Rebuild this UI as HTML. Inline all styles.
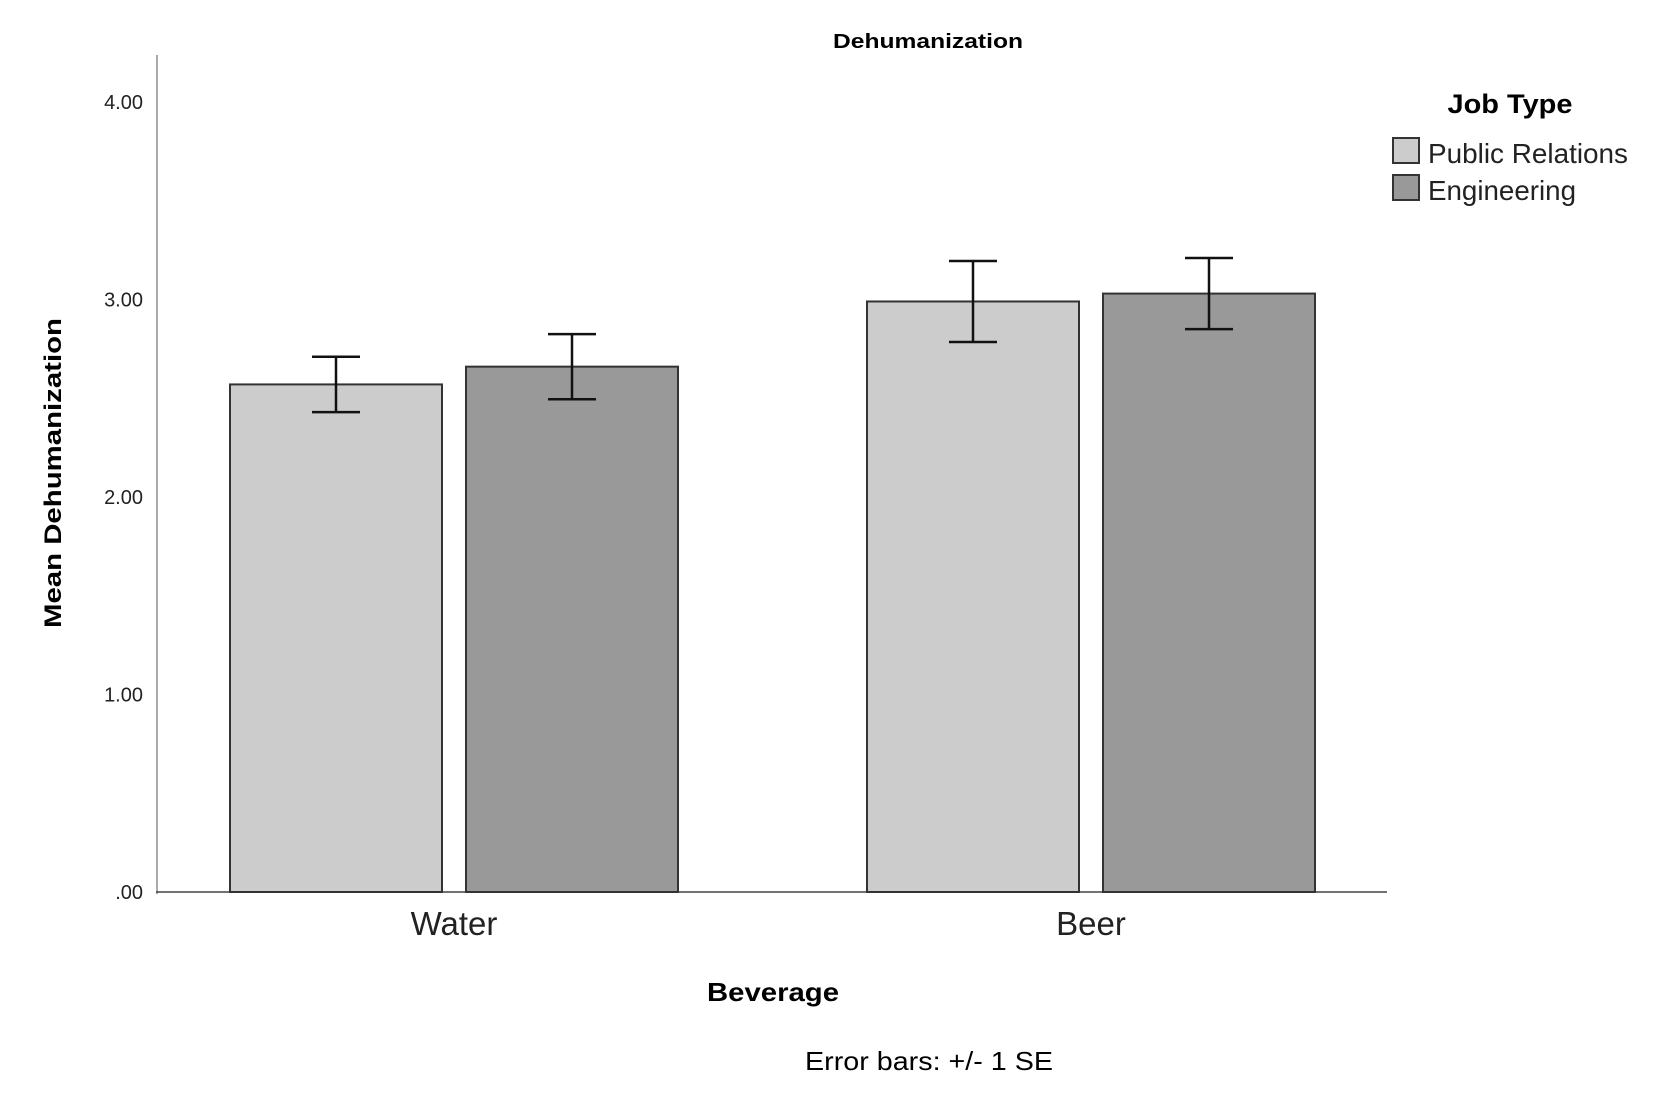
<!DOCTYPE html>
<html><head><meta charset="utf-8"><style>
html,body{margin:0;padding:0;background:#fff;}
svg{display:block;font-family:"Liberation Sans",Arial,sans-serif;}
</style></head><body>
<svg id="chart" width="1656" height="1104" viewBox="0 0 1656 1104">
<text x="928" y="48" text-anchor="middle" font-size="20" font-weight="bold" textLength="190" lengthAdjust="spacingAndGlyphs">Dehumanization</text>
<g id="yticks"></g>
<line x1="157" y1="55" x2="157" y2="894" stroke="#aaa" stroke-width="2"/>
<line x1="156" y1="892" x2="1387" y2="892" stroke="#444" stroke-width="1.5"/>
<g id="bars"></g>
<g id="xlabels"></g>
<text transform="translate(61,473) rotate(-90)" text-anchor="middle" font-size="24" font-weight="bold" textLength="310" lengthAdjust="spacingAndGlyphs">Mean Dehumanization</text>
<text x="773" y="1001" text-anchor="middle" font-size="26" font-weight="bold" textLength="132" lengthAdjust="spacingAndGlyphs">Beverage</text>
<text x="929" y="1070" text-anchor="middle" font-size="26" textLength="248" lengthAdjust="spacingAndGlyphs">Error bars: +/- 1 SE</text>
<g>
<text x="1510" y="113" text-anchor="middle" font-size="27" font-weight="bold" textLength="125" lengthAdjust="spacingAndGlyphs">Job Type</text>
<rect x="1393" y="138" width="26" height="25" fill="#cccccc" stroke="#333" stroke-width="2"/>
<text x="1428" y="163" font-size="28" fill="#222" textLength="200" lengthAdjust="spacingAndGlyphs">Public Relations</text>
<rect x="1393" y="175" width="26" height="25" fill="#999999" stroke="#333" stroke-width="2"/>
<text x="1428" y="200" font-size="28" fill="#222" textLength="148" lengthAdjust="spacingAndGlyphs">Engineering</text>
</g>
</svg>
<script>
const categories = ["Water", "Beer"];
const seriesNames = ["Public Relations", "Engineering"];
const publicRelations = [2.57, 2.99];
const engineering = [2.66, 3.03];
const sePublicRelations = [0.14, 0.205];
const seEngineering = [0.165, 0.18];
const yTicks = [0, 1, 2, 3, 4];
const yTickLabels = [".00", "1.00", "2.00", "3.00", "4.00"];

const NS = "http://www.w3.org/2000/svg";
const y0 = 892, unit = 197.5;
function yScale(v){ return y0 - v*unit; }
const groupStart = [230, 867];
const barW = 212, barGap = 236;
const colors = ["#cccccc", "#999999"];
const series = [publicRelations, engineering];
const ses = [sePublicRelations, seEngineering];
function mk(tag, attrs){ const e=document.createElementNS(NS,tag); for(const k in attrs) e.setAttribute(k,attrs[k]); return e; }

const yt = document.getElementById("yticks");
yTicks.forEach((t,i)=>{
  const tx = mk("text",{x:143,y:yScale(t)+7,"text-anchor":"end","font-size":"20",fill:"#222"});
  tx.textContent = yTickLabels[i];
  
  
  yt.appendChild(tx);
});

const bg = document.getElementById("bars");
const xl = document.getElementById("xlabels");
categories.forEach((c,ci)=>{
  series.forEach((s,si)=>{
    const x = groupStart[ci] + si*barGap;
    const top = yScale(s[ci]);
    const r = mk("rect",{x:x,y:top,width:barW,height:y0-top,fill:colors[si],stroke:"#333","stroke-width":2});
    
    
    bg.appendChild(r);
    const cx = x + barW/2;
    const hi = yScale(s[ci]+ses[si][ci]), lo = yScale(s[ci]-ses[si][ci]);
    const g = mk("g",{stroke:"#111","stroke-width":2.5});
    
    
    g.appendChild(mk("line",{x1:cx,y1:hi,x2:cx,y2:lo}));
    g.appendChild(mk("line",{x1:cx-24,y1:hi,x2:cx+24,y2:hi}));
    g.appendChild(mk("line",{x1:cx-24,y1:lo,x2:cx+24,y2:lo}));
    bg.appendChild(g);
  });
  const lx = groupStart[ci] + (barGap + barW)/2;
  const t = mk("text",{x:lx,y:935,"text-anchor":"middle","font-size":"33",fill:"#222"});
  t.textContent = c;
  
  
  xl.appendChild(t);
});
</script>
</body></html>
